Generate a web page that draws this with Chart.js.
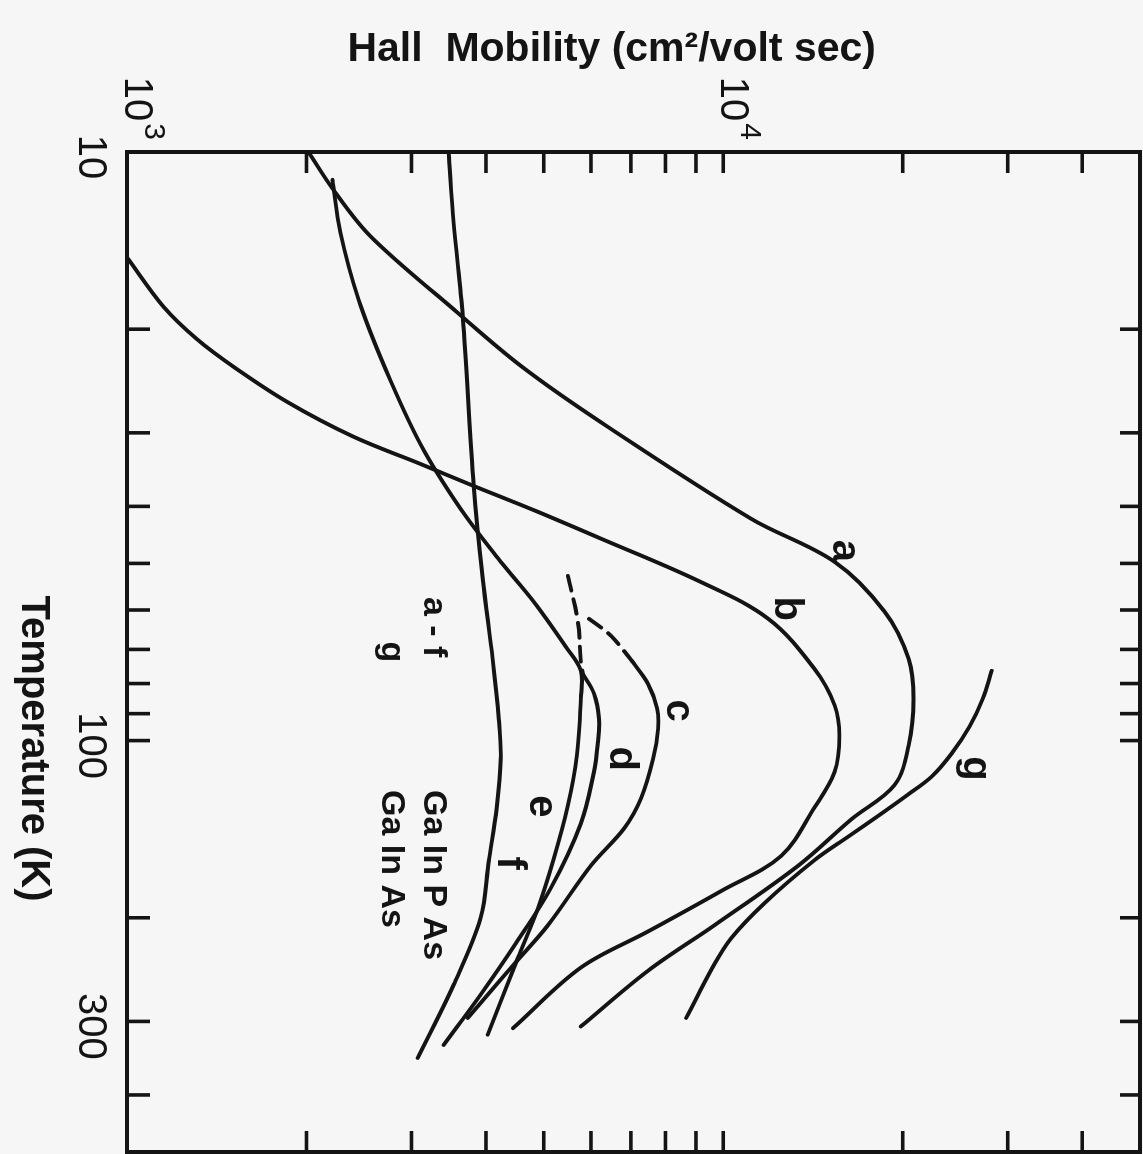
<!DOCTYPE html>
<html>
<head>
<meta charset="utf-8">
<script src="https://cdn.jsdelivr.net/npm/chart.js@4.4.1/dist/chart.umd.min.js"></script>
<style>
  html, body { margin: 0; padding: 0; width: 1143px; height: 1154px; overflow: hidden; background: #f6f6f6; }
  /* The figure is laid out in landscape (temperature across, mobility up)
     and turned a quarter turn clockwise onto the page. */
  #turn { position: absolute; left: 0; top: 0; width: 1154px; height: 1143px;
          transform-origin: 0 0; transform: translate(1143px, 0) rotate(90deg); }
  canvas { display: block; }
</style>
</head>
<body>
<div id="turn"><canvas id="hall" width="1154" height="1143"></canvas></div>
<script>
// ---- Hall mobility (cm^2/volt sec) versus temperature (K) ----
// Curves a-f: GaInPAs samples, curve g: GaInAs.

const tempA = [10, 11.6, 13.9, 18.5, 23.1, 28.8, 42.0, 49.7, 60.4, 72.6, 85, 102, 119, 136, 163, 206, 246, 306];
const mobA  = [2015, 2220, 2560, 3530, 4580, 6240, 11140, 15380, 18650, 20460, 20850, 20460, 19380, 16410, 13370, 9660, 7480, 5770];

const tempB = [15.1, 18.3, 20.8, 23.4, 26.6, 30.4, 33.9, 37.0, 40.4, 45.0, 53.8, 62.1, 75.5, 87.2, 98.1, 113, 130, 157, 180, 211, 243, 308];
const mobB  = [1000, 1150, 1310, 1530, 1858, 2388, 3108, 3830, 4757, 6115, 9180, 11900, 14220, 15380, 15660, 15380, 14220, 12510, 9930, 7480, 5770, 4440];

const tempCDashed = [62.1, 66.4, 74.0];
const mobCDashed  = [5955, 6485, 7085];
const tempC = [74.0, 80.1, 88.2, 95.4, 107.3, 125.4, 141, 163, 206, 240, 279, 296];
const mobC  = [7085, 7480, 7745, 7775, 7630, 7280, 6820, 6000, 5080, 4455, 3920, 3727];

const tempDDashed = [52.5, 62.9, 73.5, 77.0];
const mobDDashed  = [5490, 5705, 5770, 5815];
const tempD = [77.0, 83.2, 91.8, 101.2, 113, 138.3, 178, 221, 270, 329];
const mobD  = [5815, 6070, 6190, 6160, 6070, 5770, 5140, 4490, 3920, 3397];

const tempE = [11.15, 13.7, 17.8, 23.4, 31.4, 40.4, 49.7, 58.1, 69.3, 76.1, 84.9, 106, 128.9, 158.5, 192.6, 234, 316];
const mobE  = [2211, 2280, 2445, 2715, 3108, 3628, 4236, 4810, 5445, 5770, 5770, 5683, 5490, 5200, 4890, 4525, 4027];

const tempF = [10, 13.2, 19.0, 37.0, 53.1, 72.6, 91.8, 107.3, 130, 160.4, 200, 260, 346];
const mobF  = [3463, 3530, 3656, 3815, 3950, 4105, 4203, 4236, 4170, 4043, 3920, 3530, 3073];

const tempG = [76.1, 84.9, 94.6, 105.2, 115.1, 124, 133, 145.5, 159.7, 189, 216.6, 240, 296];
const mobG  = [28200, 27240, 25900, 24160, 22370, 20300, 18430, 16220, 14220, 11720, 10310, 9660, 8665];

// Curve letters and where they sit (temperature, mobility)
const curveNames = ['a', 'b', 'c', 'd', 'e', 'f', 'g'];
const nameTemp   = [47.6, 59.7, 88.9, 107.3, 129.4, 161.6, 111.5];
const nameMob    = [15970, 12760, 8400, 6740, 4945, 4367, 26400];

// Axis ranges, tick marks and labelled ticks
const tempRange = [10, 500];
const mobRange  = [1000, 50000];
const tempTicks = [20, 30, 40, 50, 60, 70, 80, 90, 100, 200, 300, 400];
const tempTickLabels = [10, 100, 300];
const mobTicks  = [2000, 3000, 4000, 5000, 6000, 7000, 8000, 9000, 10000, 20000, 30000, 40000];
const mobTickBases = [1000, 10000];
const mobTickExps  = ['3', '4'];

// Key text
const keyLines = [['a - f', 'Ga In P As'], ['g', 'Ga In As']];

const INK = '#141414';
const FONT = '"Liberation Sans", Arial, sans-serif';

function points(T, M) { return T.map((t, i) => ({ x: t, y: M[i] })); }
function curve(T, M, dashed) {
  return {
    data: points(T, M),
    showLine: true,
    borderColor: INK,
    borderWidth: 3.9,
    borderCapStyle: 'round',
    borderJoinStyle: 'round',
    borderDash: dashed ? [15, 9] : [],
    pointRadius: 0,
    fill: false,
    tension: 0.35
  };
}

function stroke(ctx, x1, y1, x2, y2) {
  ctx.beginPath(); ctx.moveTo(x1, y1); ctx.lineTo(x2, y2); ctx.stroke();
}

const decorations = {
  id: 'decorations',
  afterDatasetsDraw(chart) {
    const { ctx, chartArea: ca, scales: { x, y } } = chart;
    ctx.save();
    ctx.strokeStyle = INK;
    ctx.fillStyle = INK;

    // frame
    ctx.lineWidth = 4;
    ctx.strokeRect(ca.left, ca.top, ca.right - ca.left, ca.bottom - ca.top);

    // inward ticks on all four sides
    ctx.lineWidth = 3.6;
    ctx.lineCap = 'butt';
    tempTicks.forEach(t => {
      const px = x.getPixelForValue(t);
      stroke(ctx, px, ca.bottom, px, ca.bottom - 23);
      stroke(ctx, px, ca.top, px, ca.top + 20);
    });
    mobTicks.forEach(m => {
      const py = y.getPixelForValue(m);
      stroke(ctx, ca.left, py, ca.left + 21, py);
      stroke(ctx, ca.right, py, ca.right - 21, py);
    });

    // temperature tick labels
    ctx.font = '40px ' + FONT;
    ctx.textAlign = 'center';
    ctx.textBaseline = 'middle';
    tempTickLabels.forEach(t => {
      ctx.fillText(String(t), x.getPixelForValue(t) + 5, ca.bottom + 37);
    });

    // mobility tick labels: powers of ten
    mobTickBases.forEach((m, i) => {
      const py = y.getPixelForValue(m) - 9;
      ctx.font = '40px ' + FONT;
      const bw = ctx.measureText('10').width;
      ctx.font = '30px ' + FONT;
      const ew = ctx.measureText(mobTickExps[i]).width;
      const right = ca.left - 12;
      const left = right - ew - 2 - bw;
      ctx.textAlign = 'left';
      ctx.font = '40px ' + FONT;
      ctx.fillText('10', left, py);
      ctx.font = '30px ' + FONT;
      ctx.fillText(mobTickExps[i], left + bw + 2, py - 17);
    });

    // axis titles
    ctx.font = 'bold 40px ' + FONT;
    ctx.textAlign = 'center';
    ctx.textBaseline = 'middle';
    ctx.fillText('Temperature (K)', x.getPixelForValue(100) + 8, 1110);
    ctx.save();
    ctx.translate(50, y.getPixelForValue(6500));
    ctx.rotate(-Math.PI / 2);
    ctx.font = 'bold 41px ' + FONT;
    ctx.fillText('Hall  Mobility (cm\u00B2/volt sec)', 0, 0);
    ctx.restore();

    // curve letters
    ctx.font = 'bold 40px ' + FONT;
    curveNames.forEach((n, i) => {
      ctx.fillText(n, x.getPixelForValue(nameTemp[i]), y.getPixelForValue(nameMob[i]));
    });

    // key
    ctx.font = 'bold 34px ' + FONT;
    ctx.textAlign = 'left';
    const keyRows = [710, 752];
    ctx.fillText(keyLines[0][0], 597, keyRows[0]);
    ctx.fillText(keyLines[0][1], 790, keyRows[0]);
    ctx.textAlign = 'center';
    ctx.fillText(keyLines[1][0], 652, keyRows[1]);
    ctx.textAlign = 'left';
    ctx.fillText(keyLines[1][1], 790, keyRows[1]);

    ctx.restore();
  }
};

new Chart(document.getElementById('hall'), {
  type: 'scatter',
  data: {
    datasets: [
      curve(tempA, mobA),
      curve(tempB, mobB),
      curve(tempCDashed, mobCDashed, true),
      curve(tempC, mobC),
      curve(tempDDashed, mobDDashed, true),
      curve(tempD, mobD),
      curve(tempE, mobE),
      curve(tempF, mobF),
      curve(tempG, mobG)
    ]
  },
  options: {
    responsive: false,
    devicePixelRatio: 1,
    animation: false,
    events: [],
    layout: { padding: { left: 152, right: 2, top: 3, bottom: 127 } },
    plugins: { legend: { display: false }, tooltip: { enabled: false } },
    scales: {
      x: { type: 'logarithmic', min: tempRange[0], max: tempRange[1], display: false },
      y: { type: 'logarithmic', min: mobRange[0], max: mobRange[1], display: false }
    }
  },
  plugins: [decorations]
});
</script>
</body>
</html>
